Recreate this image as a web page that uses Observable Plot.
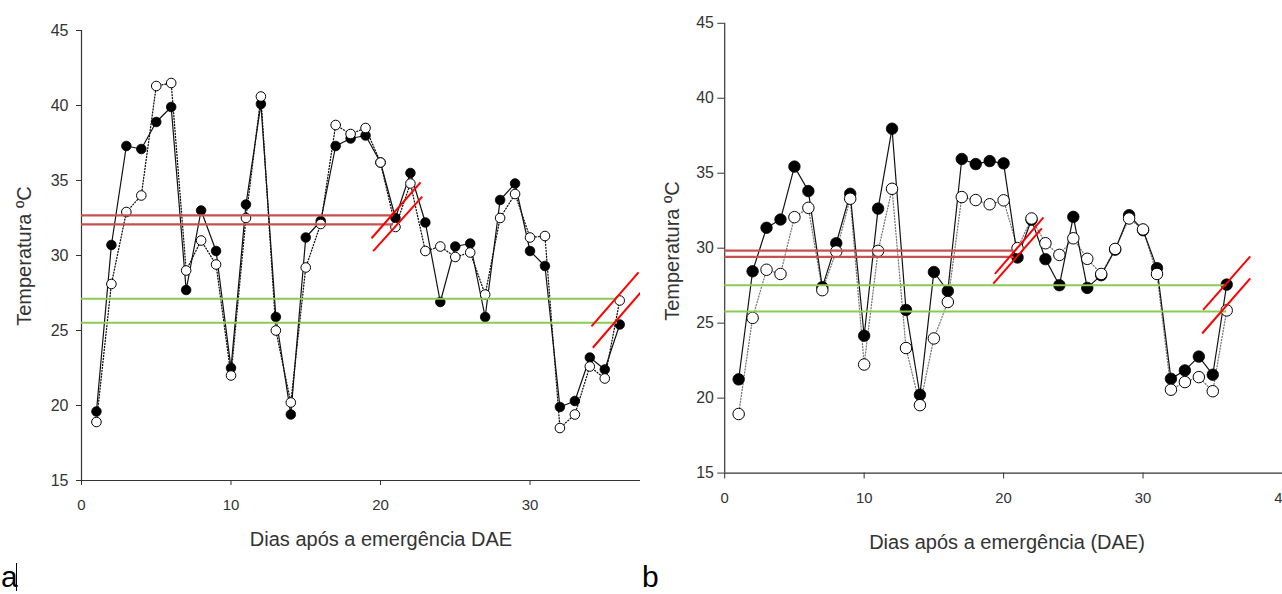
<!DOCTYPE html>
<html><head><meta charset="utf-8">
<script src="https://cdn.jsdelivr.net/npm/d3@7"></script>
<script src="https://cdn.jsdelivr.net/npm/@observablehq/plot@0.6"></script>
<style>
body{margin:0;background:#fff;font-family:"Liberation Sans",Arial,sans-serif;}
#wrap{position:relative;width:1282px;height:594px;overflow:hidden;background:#fff}
.panel{position:absolute;top:0;height:594px;overflow:hidden}
.t{position:absolute;white-space:nowrap;line-height:1;color:#333;font-size:20px}
.rot{transform:translate(-50%,-50%) rotate(-90deg)}
.cx{transform:translateX(-50%)}
.letter{position:absolute;line-height:1;font-size:30px;color:#000}
</style></head><body>
<div id="wrap">
  <div id="pa" class="panel" style="left:0;width:640px"></div>
  <div id="pb" class="panel" style="left:640px;width:642px"></div>
  <div class="t rot" style="left:24px;top:256px">Temperatura ºC</div>
  <div class="t rot" style="left:672px;top:251px">Temperatura ºC</div>
  <div class="t cx" style="left:381px;top:529px">Dias após a emergência DAE</div>
  <div class="t cx" style="left:1007px;top:532px">Dias após a emergência (DAE)</div>
  <div class="letter" style="left:1px;top:562px">a</div>
  <div style="position:absolute;left:16px;top:563px;width:1px;height:28px;background:#000"></div>
  <div class="letter" style="left:642px;top:562px">b</div>
</div>
<script>
// Days after emergence
const days = [1,2,3,4,5,6,7,8,9,10,11,12,13,14,15,16,17,18,19,20,21,22,23,24,25,26,27,28,29,30,31,32,33,34,35,36];

// Panel a
const aFilled = [19.6,30.7,37.3,37.1,38.9,39.9,27.7,33.0,30.3,22.5,33.4,40.1,25.9,19.4,31.2,32.3,37.3,37.8,38.0,36.2,32.5,35.5,32.2,26.9,30.6,30.8,25.9,33.7,34.8,30.3,29.3,19.9,20.3,23.2,22.4,25.4];
const aOpen   = [18.9,28.1,32.9,34.0,41.3,41.5,29.0,31.0,29.4,22.0,32.5,40.6,25.0,20.2,29.2,32.1,38.7,38.1,38.5,36.2,31.9,34.8,30.3,30.6,29.9,30.2,27.4,32.5,34.1,31.2,31.3,18.5,19.4,22.6,21.8,27.0];
const aRed = [32.67, 32.07];
const aRedEnd = 20.87;
const aGreen = [27.11, 25.51];
const aGreenEnd = 35.85;
const aBreaks = [
  {x1:19.40, y1:31.15, x2:22.68, y2:34.87},
  {x1:19.51, y1:30.29, x2:22.79, y2:33.93},
  {x1:34.11, y1:25.27, x2:37.26, y2:28.87},
  {x1:34.20, y1:23.85, x2:37.39, y2:27.53}
];
const aXTicks = [0,10,20,30];

// Panel b
const bFilled = [21.25,28.46,31.36,31.91,35.44,33.81,27.4,30.33,33.63,24.16,32.64,37.97,25.88,20.22,28.41,27.14,35.95,35.61,35.81,35.66,29.38,31.9,29.27,27.53,32.09,27.35,28.2,29.9,32.2,31.2,28.67,21.29,21.85,22.77,21.56,27.57];
const bOpen   = [18.94,25.35,28.56,28.28,32.07,32.69,27.2,29.78,33.30,22.24,29.82,33.96,23.34,19.53,23.98,26.41,33.41,33.21,32.93,33.19,30.0,31.98,30.33,29.55,30.66,29.29,28.28,29.95,31.98,31.25,28.28,20.56,21.07,21.4,20.46,25.85];
const bRed = [29.84, 29.42];
const bRedEnd = 20.75;
const bGreen = [27.53, 25.77];
const bGreenEnd = 36.0;
const bBreaks = [
  {x1:19.38, y1:28.28, x2:22.86, y2:32.05},
  {x1:19.26, y1:27.64, x2:22.74, y2:31.32},
  {x1:34.31, y1:25.88, x2:37.69, y2:29.45},
  {x1:34.24, y1:24.31, x2:37.69, y2:27.99}
];
const bXTicks = [0,10,20,30,40];

const yTicks = [15,20,25,30,35,40,45];

function makePanel(o) {
  const rows = days.map((d, i) => ({day: d, filled: o.filled[i], open: o.open[i]}));
  return Plot.plot({
    width: o.width, height: 594,
    marginLeft: o.ml, marginRight: 0, marginTop: o.mt, marginBottom: o.mb,
    x: {domain: [0, o.xMax]},
    y: {domain: [15, 45]},
    style: {fontFamily: '"Liberation Sans", Arial, sans-serif', color: "#333", background: "white", overflow: "visible"},
    marks: [
      Plot.axisX({ticks: o.xTicks, tickSize: o.tsx, tickPadding: o.tpx, fontSize: 15, label: null}),
      Plot.axisY({ticks: yTicks, tickSize: o.tsy, tickPadding: o.tpy, fontSize: 16, label: null}),
      Plot.ruleY([15], {stroke: "#333", strokeWidth: 1.2}),
      Plot.ruleX([0], {stroke: "#333", strokeWidth: 1.2}),
      Plot.line(rows, {x: "day", y: "open", stroke: o.dotColor, strokeWidth: 1.3, strokeDasharray: "1,2"}),
      Plot.line(rows, {x: "day", y: "filled", stroke: "#111", strokeWidth: 1.2}),
      Plot.dot(rows, {x: "day", y: "filled", r: o.r, fill: "#000", stroke: "#000", strokeWidth: 0.8}),
      Plot.dot(rows, {x: "day", y: "open", r: o.r, fill: "#fff", stroke: "#000", strokeWidth: 1}),
      Plot.ruleY(o.red, {x1: () => 0, x2: () => o.redEnd, stroke: "#c4504f", strokeWidth: 2.2}),
      Plot.ruleY(o.green, {x1: () => 0, x2: () => o.greenEnd, stroke: "#8acb52", strokeWidth: 2}),
      Plot.link(o.breaks, {x1: "x1", y1: "y1", x2: "x2", y2: "y2", stroke: "#ff0000", strokeWidth: 2})
    ]
  });
}

document.getElementById("pa").append(makePanel({
  filled: aFilled, open: aOpen, red: aRed, redEnd: aRedEnd, green: aGreen, greenEnd: aGreenEnd,
  breaks: aBreaks, xTicks: aXTicks, width: 640, ml: 81, mt: 30, mb: 114, xMax: 37.39,
  tsx: 5, tpx: 14, tsy: 5, tpy: 8, r: 4.8, dotColor: "#111"
}));
document.getElementById("pb").append(makePanel({
  filled: bFilled, open: bOpen, red: bRed, redEnd: bRedEnd, green: bGreen, greenEnd: bGreenEnd,
  breaks: bBreaks, xTicks: bXTicks, width: 648, ml: 85, mt: 23, mb: 117, xMax: 40,
  tsx: 6, tpx: 14, tsy: 7, tpy: 4, r: 5.8, dotColor: "#777"
}));
</script>
</body></html>
